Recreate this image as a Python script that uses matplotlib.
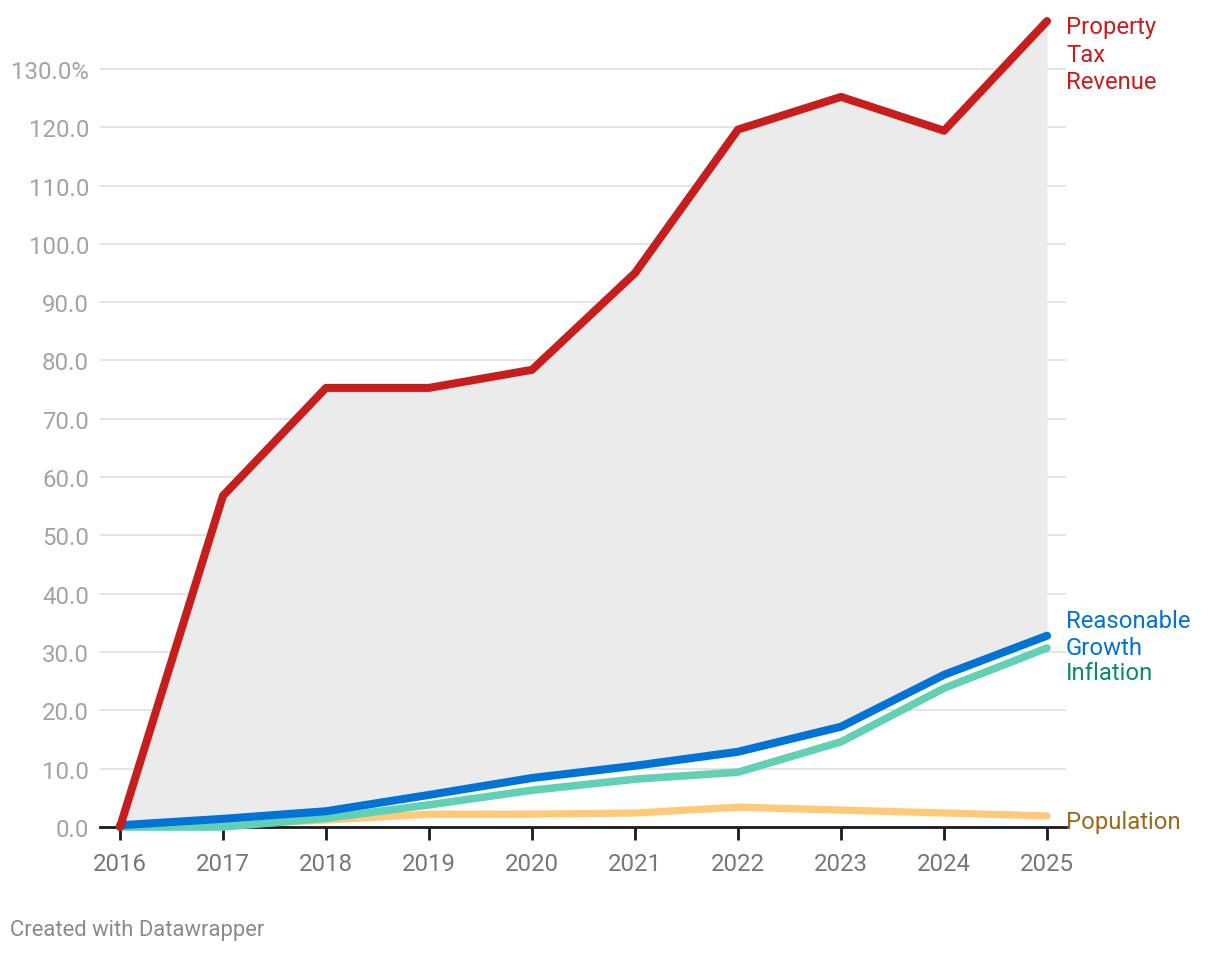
import matplotlib.pyplot as plt

plt.rcParams["font.family"] = ["Roboto", "DejaVu Sans"]

years = [2016, 2017, 2018, 2019, 2020, 2021, 2022, 2023, 2024, 2025]
property_tax = [0.0, 56.8, 75.3, 75.3, 78.4, 95.0, 119.6, 125.2, 119.4, 138.2]
reasonable = [0.3, 1.4, 2.7, 5.5, 8.4, 10.5, 12.9, 17.2, 26.1, 32.8]
inflation = [0.0, 0.0, 1.5, 3.8, 6.3, 8.2, 9.4, 14.6, 23.8, 30.7]
population = [0.0, 0.3, 1.2, 2.2, 2.2, 2.4, 3.4, 2.9, 2.4, 1.9]
yticks = [0, 10, 20, 30, 40, 50, 60, 70, 80, 90, 100, 110, 120, 130]

red = "#c71e1d"
blue = "#0073d6"
green_line = "#61d0b4"
green_text = "#0b8a6a"
pop_line = "#fec978"
pop_text = "#9a6a1a"

fig = plt.figure(figsize=(12.2, 9.54), dpi=100)
ax = fig.add_axes([100 / 1220, 126 / 954, 966 / 1220, 810 / 954])

ax.fill_between(years, reasonable, property_tax, color="#ebebeb", lw=0, zorder=1)
for y in yticks[1:]:
    ax.axhline(y, color="#e3e3e3", lw=1.3, zorder=0.5)

kw = dict(solid_capstyle="round", solid_joinstyle="round", clip_on=False)
ax.plot(years, population, color=pop_line, lw=5.2, zorder=3, **kw)
ax.plot(years, inflation, color=green_line, lw=5.5, zorder=4, **kw)
ax.plot(years, reasonable, color=blue, lw=5.8, zorder=5, **kw)
ax.plot(years, property_tax, color=red, lw=5.8, zorder=6, **kw)

ax.set_xlim(2015.806, 2025.184)
ax.set_ylim(0, 138.9)
ax.set_xticks(years)
ax.set_xticklabels([str(y) for y in years])
ax.set_yticks(yticks)
ax.set_yticklabels([f"{v:.1f}%" if v == 130 else f"{v:.1f}" for v in yticks])

for s in ["top", "right", "left"]:
    ax.spines[s].set_visible(False)
ax.spines["bottom"].set_color("#1a1a1a")
ax.spines["bottom"].set_linewidth(2)
ax.spines["bottom"].set_zorder(2)
ax.tick_params(axis="x", length=9, width=2, color="#1a1a1a", labelsize=17.3,
               labelcolor="#777777", pad=9)
ax.tick_params(axis="y", length=0, labelsize=17.3, labelcolor="#a3a3a3", pad=8)

lx = 1066 / 1220
def label(ypix, text, color):
    fig.text(lx, 1 - ypix / 954, text, color=color, fontsize=17.2, va="center",
             ha="left", linespacing=1.27)

label(55, "Property\nTax\nRevenue", red)
label(635, "Reasonable\nGrowth", blue)
label(674, "Inflation", green_text)
label(822, "Population", pop_text)

fig.text(10 / 1220, 1 - 931 / 954, "Created with Datawrapper", color="#8a8a8a",
         fontsize=15.8, va="center", ha="left")

fig.savefig("out.png", dpi=100)
